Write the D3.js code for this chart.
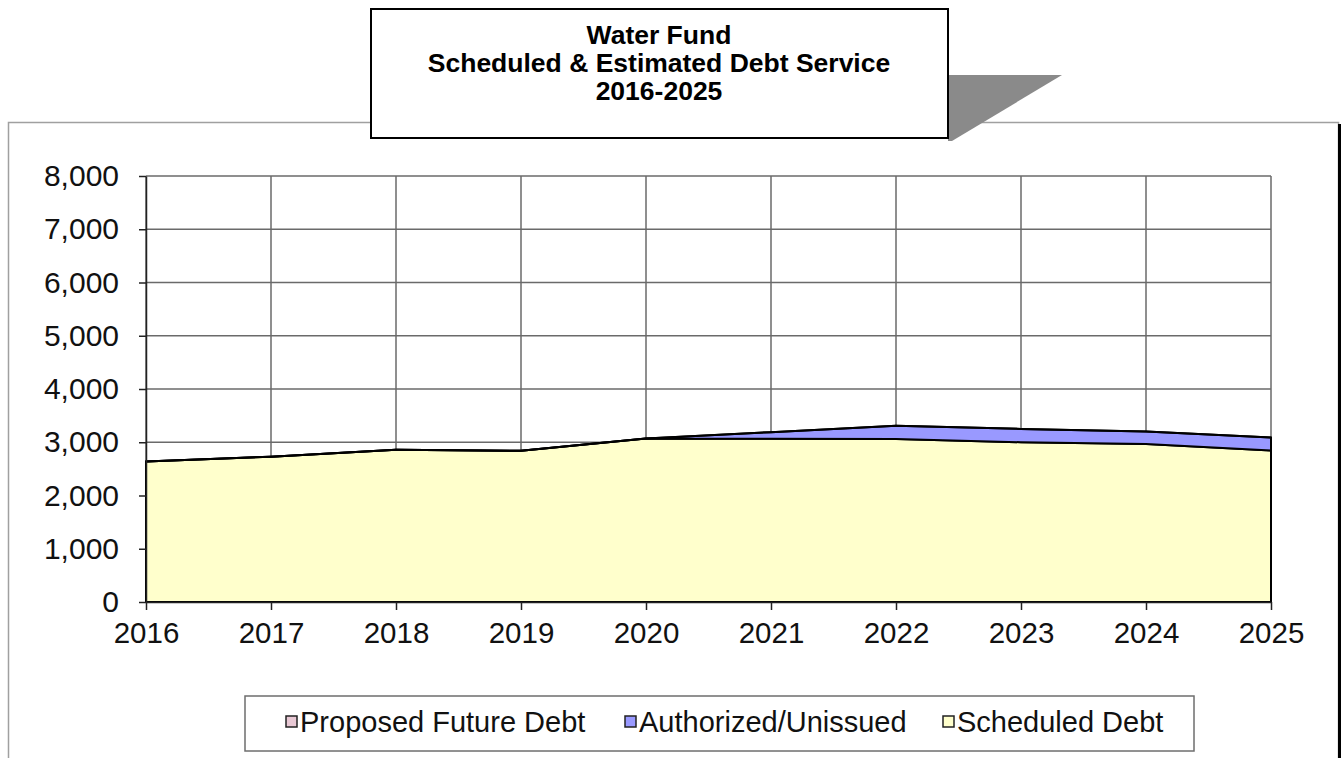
<!DOCTYPE html>
<html>
<head>
<meta charset="utf-8">
<script src="https://cdn.jsdelivr.net/npm/d3@7"></script>
<style>
    body { margin: 0; background: #ffffff; }
    text { font-family: Arial, "Liberation Sans", sans-serif; }
</style>
</head>
<body>
<script>
// data (thousands of dollars)
var years = [2016, 2017, 2018, 2019, 2020, 2021, 2022, 2023, 2024, 2025];
var scheduledDebt = [2640, 2730, 2860, 2840, 3070, 3065, 3060, 3000, 2965, 2845];
var authorizedUnissued = [0, 0, 0, 0, 0, 125, 250, 250, 235, 245];
var proposedFutureDebt = [0, 0, 0, 0, 0, 0, 0, 0, 0, 0];
var yTicks = [0, 1000, 2000, 3000, 4000, 5000, 6000, 7000, 8000];
var titleLines = ["Water Fund", "Scheduled & Estimated Debt Service", "2016-2025"];
var seriesNames = ["Proposed Future Debt", "Authorized/Unissued", "Scheduled Debt"];
var seriesColors = ["#e8c8d4", "#9999ff", "#ffffcc"];

var width = 1343, height = 758;
var svg = d3.select("body").append("svg")
    .attr("width", width)
    .attr("height", height);

// outer chart frame with black shadow on the right
svg.append("rect")
    .attr("x", 8.5).attr("y", 122.5)
    .attr("width", 1330).attr("height", 700)
    .attr("fill", "#ffffff")
    .attr("stroke", "#a0a0a0")
    .attr("stroke-width", 1.5);
svg.append("rect")
    .attr("x", 1338).attr("y", 124)
    .attr("width", 3).attr("height", 700)
    .attr("fill", "#000000");

var x = d3.scaleLinear()
    .domain([d3.min(years), d3.max(years)])
    .range([146, 1271]);

var y = d3.scaleLinear()
    .domain([0, 8000])
    .range([602, 176]);

// gridlines
var grid = svg.append("g");
grid.selectAll(".hgrid")
    .data(yTicks)
    .enter().append("line")
    .attr("x1", x(2016)).attr("x2", x(2025))
    .attr("y1", d => y(d)).attr("y2", d => y(d))
    .attr("stroke", "#6a6a6a")
    .attr("stroke-width", 1.5);
grid.selectAll(".vgrid")
    .data(years)
    .enter().append("line")
    .attr("x1", d => x(d)).attr("x2", d => x(d))
    .attr("y1", y(0)).attr("y2", y(8000))
    .attr("stroke", "#6a6a6a")
    .attr("stroke-width", 1.5);

// stacked areas: scheduled at the bottom, then authorized, then proposed
var rows = years.map(function(yr, i)
{
    return {year: yr, s: scheduledDebt[i], a: authorizedUnissued[i], p: proposedFutureDebt[i]};
});
var stack = d3.stack().keys(["s", "a", "p"]);
var layers = stack(rows);
var layerColors = [seriesColors[2], seriesColors[1], seriesColors[0]];

var area = d3.area()
    .x(d => x(d.data.year))
    .y0(d => y(d[0]))
    .y1(d => y(d[1]));

svg.append("g").selectAll("path")
    .data(layers)
    .enter().append("path")
    .attr("d", area)
    .attr("fill", (d, i) => layerColors[i])
    .attr("stroke", "#000000")
    .attr("stroke-width", 2)
    .attr("stroke-linejoin", "round");

// axes
var yAxis = d3.axisLeft(y)
    .tickValues(yTicks)
    .tickFormat(d3.format(","))
    .tickSizeInner(7)
    .tickSizeOuter(0)
    .tickPadding(20);

var gy = svg.append("g")
    .attr("transform", "translate(" + x(2016) + ",0)")
    .call(yAxis);
gy.selectAll("text")
    .style("font-size", "30px")
    .attr("fill", "#111111");
gy.selectAll("line, path")
    .attr("stroke", "#222222")
    .attr("stroke-width", 1.5);

var xAxis = d3.axisBottom(x)
    .tickValues(years)
    .tickFormat(d3.format("d"))
    .tickSizeInner(8)
    .tickSizeOuter(0)
    .tickPadding(12);

var gx = svg.append("g")
    .attr("transform", "translate(0," + y(0) + ")")
    .call(xAxis);
gx.selectAll("text")
    .style("font-size", "29.5px")
    .attr("fill", "#111111");
gx.selectAll("line, path")
    .attr("stroke", "#222222")
    .attr("stroke-width", 1.5);

// title box with grey shadow
svg.append("polygon")
    .attr("points", "948,75 1062,75 952,141 948,141")
    .attr("fill", "#8a8a8a");
svg.append("rect")
    .attr("x", 371).attr("y", 9)
    .attr("width", 577).attr("height", 129)
    .attr("fill", "#ffffff")
    .attr("stroke", "#000000")
    .attr("stroke-width", 2);
svg.append("g").selectAll("text")
    .data(titleLines)
    .enter().append("text")
    .attr("x", 659)
    .attr("y", (d, i) => 44 + i * 28)
    .attr("text-anchor", "middle")
    .style("font-size", "26.5px")
    .style("font-weight", "bold")
    .text(d => d);

// legend
svg.append("rect")
    .attr("x", 245).attr("y", 696)
    .attr("width", 949).attr("height", 55)
    .attr("fill", "#ffffff")
    .attr("stroke", "#6e6e6e")
    .attr("stroke-width", 1.5);

var legendX = [286, 625, 943];
var legend = svg.append("g").selectAll("g")
    .data(seriesNames)
    .enter().append("g")
    .attr("transform", (d, i) => "translate(" + legendX[i] + ",0)");
legend.append("rect")
    .attr("x", 0).attr("y", 716)
    .attr("width", 11).attr("height", 11)
    .attr("fill", (d, i) => seriesColors[i])
    .attr("stroke", "#222222")
    .attr("stroke-width", 1.5);
legend.append("text")
    .attr("x", 14).attr("y", 732)
    .style("font-size", "29px")
    .attr("fill", "#111111")
    .text(d => d);
</script>
</body>
</html>
